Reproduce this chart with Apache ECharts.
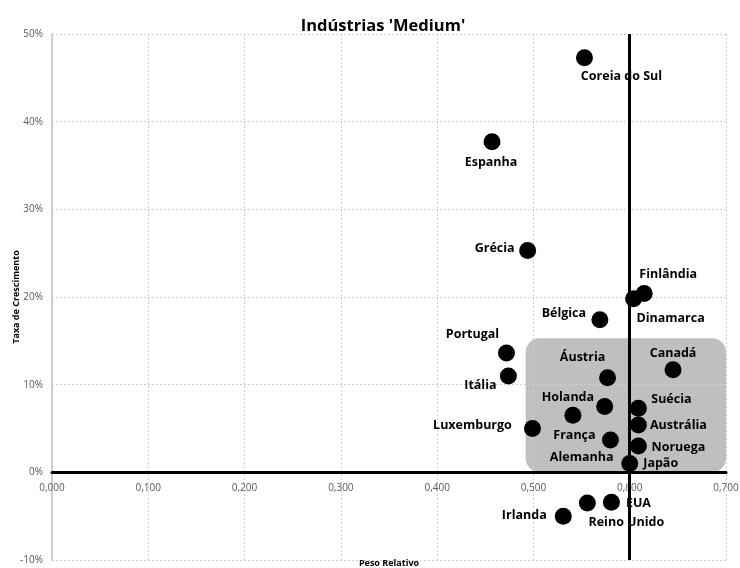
<!DOCTYPE html>
<html>
<head>
<meta charset="utf-8">
<script src="https://cdn.jsdelivr.net/npm/echarts@6/dist/echarts.min.js"></script>
<style>html,body{margin:0;padding:0;background:#fff}#c{width:740px;height:568px}</style>
</head>
<body>
<div id="c"></div>
<script>
// ---- data ----
const countries = ["Coreia do Sul","Espanha","Grécia","Finlândia","Dinamarca","Bélgica","Portugal","Itália","Áustria","Canadá","Holanda","Alemanha","Suécia","Luxemburgo","Austrália","França","Noruega","Japão","EUA","Reino Unido","Irlanda"];
const pesoRelativo = [0.553,0.457,0.494,0.615,0.604,0.569,0.472,0.474,0.577,0.645,0.541,0.574,0.609,0.499,0.609,0.580,0.609,0.600,0.581,0.556,0.531];
const taxaCrescimento = [0.473,0.377,0.253,0.204,0.198,0.174,0.136,0.110,0.108,0.117,0.065,0.075,0.073,0.050,0.054,0.037,0.030,0.010,-0.034,-0.035,-0.050];
const xTicks = [0,0.1,0.2,0.3,0.4,0.5,0.6,0.7];
const yTicks = [-0.1,0,0.1,0.2,0.3,0.4,0.5];
const referenceX = 0.6;
const highlightBox = {x:[0.492,0.700], y:[0,0.153]};

// ---- label layout (offset of label centre from point, px) ----
const labelOffsets = {
  "Coreia do Sul":[37,19],"Espanha":[-1,21],"Grécia":[-33,-2],"Finlândia":[24,-19],
  "Dinamarca":[37,20],"Bélgica":[-36,-6],"Portugal":[-34,-19],"Itália":[-28,10],
  "Áustria":[-25,-20],"Canadá":[0,-16],"Holanda":[-5,-18],"Alemanha":[-23,51],
  "Suécia":[33,-9],"Luxemburgo":[-60,-3],"Austrália":[40,0],"França":[-36,-4],
  "Noruega":[40,1],"Japão":[31,0],"EUA":[27,1],"Reino Unido":[39,19],"Irlanda":[-39,-1]
};

const FONT = "'Open Sans', 'Liberation Sans', sans-serif";
const W = 740, H = 568;
const G = {left:52, right:14, top:34, bottom:8};
const yMin = yTicks[0], yMax = yTicks[yTicks.length-1];
const gridH = H - G.top - G.bottom;
const zeroOffset = -gridH * (0 - yMin) / (yMax - yMin); // move x axis up to y = 0

const chart = echarts.init(document.getElementById('c'), null, {renderer:'canvas'});

const seriesData = countries.map((n,i)=>({
  name:n,
  value:[pesoRelativo[i], taxaCrescimento[i]],
  label:{offset:labelOffsets[n]}
}));

const gridLine = {show:true, lineStyle:{color:'#cfcfcf', width:1, type:[2,2]}};

chart.setOption({
  animation:false,
  textStyle:{fontFamily:FONT},
  title:{
    text:"Indústrias 'Medium'",
    left:378, top:13, textAlign:'center',
    textStyle:{fontFamily:FONT, fontSize:16.5, fontWeight:'bold', color:'#000'}
  },
  grid:{left:G.left, right:G.right, top:G.top, bottom:G.bottom, containLabel:false, outerBoundsMode:'none'},
  xAxis:{
    type:'value', min:xTicks[0], max:xTicks[xTicks.length-1], interval:0.1,
    position:'bottom', offset:zeroOffset,
    name:'Peso Relativo', nameLocation:'middle', nameGap:87, nameMoveOverlap:false,
    nameTextStyle:{fontFamily:FONT, fontSize:9, fontWeight:'bold', color:'#000'},
    axisLine:{show:true, onZero:false, lineStyle:{color:'#000', width:3}},
    axisTick:{show:false},
    axisLabel:{fontFamily:FONT, fontSize:10, color:'#595959', margin:11,
      formatter:v=>v.toFixed(3).replace('.',',')},
    splitLine:gridLine
  },
  yAxis:{
    type:'value', min:yMin, max:yMax, interval:0.1,
    name:'Taxa de Crescimento', nameLocation:'middle', nameRotate:90, nameGap:31, nameMoveOverlap:false,
    nameTextStyle:{fontFamily:FONT, fontSize:9, fontWeight:'bold', color:'#000'},
    axisLine:{show:true, onZero:false, lineStyle:{color:'#c4c4c4', width:1.5}},
    axisTick:{show:false},
    axisLabel:{fontFamily:FONT, fontSize:10, color:'#595959', margin:9,
      formatter:v=>Math.round(v*100)+'%'},
    splitLine:gridLine
  },
  series:[{
    type:'scatter',
    symbol:'circle', symbolSize:17,
    itemStyle:{color:'#000', opacity:1},
    z:5,
    label:{show:true, position:'inside', formatter:'{b}',
      fontFamily:FONT, fontSize:12.5, fontWeight:'bold', color:'#000'},
    data:seriesData,
    markLine:{
      silent:true, symbol:'none', animation:false,
      label:{show:false},
      lineStyle:{color:'#000', width:3, type:'solid', opacity:1},
      data:[{xAxis:referenceX}]
    }
  }]
});

const p0 = chart.convertToPixel({gridIndex:0}, [highlightBox.x[0], highlightBox.y[1]]);
const p1 = chart.convertToPixel({gridIndex:0}, [highlightBox.x[1], highlightBox.y[0]]);
chart.setOption({
  graphic:[{
    type:'rect', silent:true, z:-10,
    shape:{x:p0[0], y:p0[1], width:p1[0]-p0[0], height:p1[1]-p0[1], r:14},
    style:{fill:'#bfbfbf'}
  }]
});
</script>
</body>
</html>
